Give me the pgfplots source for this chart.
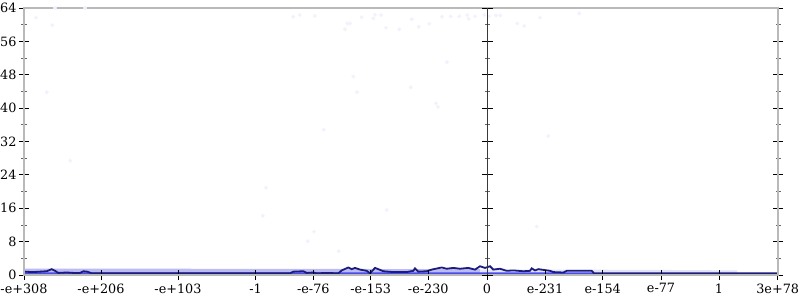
\documentclass[border=0pt]{standalone}
\usepackage{fontspec}
\setmainfont{DejaVu Serif}
\usepackage{pgfplots}
\pgfplotsset{compat=1.18}
\definecolor{navyl}{RGB}{28,28,125}
\definecolor{faint}{RGB}{242,242,253}
\definecolor{band}{RGB}{188,188,243}
\definecolor{bandl}{RGB}{226,226,250}
\definecolor{base}{RGB}{75,75,235}
\begin{document}
\begin{tikzpicture}[x=1bp,y=1bp]
\pgfplotsset{
 common/.style={
  anchor=south west, scale only axis, height=267bp,
  ymin=0, ymax=64,
  ytick={0,8,...,64}, minor y tick num=1,
  tick align=center, major tick length=11bp, minor tick length=5bp,
  major tick style={black, line width=0.9bp},
  minor tick style={gray!80!black, line width=0.7bp},
  tick label style={font=\fontsize{12.8bp}{14bp}\selectfont},
  /pgf/number format/assume math mode=true,
 }
}
\begin{axis}[common,
  at={(24bp,25bp)}, width=754bp,
  xmin=-463, xmax=291,
  axis on top,
  axis line style={draw=gray!55, line width=1.3bp},
  xtick={-463,-386,-309,-231.5,-173.7,-116.3,-58.7,0,58,115.7,174,232,290.7},
  xticklabels={-e+308,-e+206,-e+103,-1,-e-76,-e-153,-e-230,0,e-231,e-154,e-77,1,3e+78},
  xtick pos=bottom, ytick pos=both,
  major x tick style={black, line width=0.9bp},
  major tick length=10bp,
  yticklabel style={xshift=1bp},
]
% faint band near zero
\addplot[draw=none, fill=band] coordinates {(-463,0)(-463,1.5)(-300,1.5)(-150,1.45)(-7,1.4)(-7,0)} \closedcycle;
\addplot[draw=none, fill=bandl] coordinates {(-7,0)(-7,1.3)(150,1.25)(250,1.1)(250,0)} \closedcycle;
% faint scattered samples
\addplot[only marks, mark=*, mark size=1.8bp, color=faint] coordinates {
(-451,61.7)(-434.7,59.9)(-432,64)(-402,64)(-440.3,43.8)
(-416.7,27.4)(-221,20.9)(-224.3,14.2)
(-193.7,61.9)(-187.3,62.3)(-172.3,62.1)(-142,58.9)(-139.7,60.3)(-137,60.3)
(-125.3,61.8)(-113.7,61.5)(-112,62.4)(-106,62.3)(-101,59.3)(-87.7,58.9)
(-75.3,61.3)(-68.3,59.5)(-57.7,60.2)(-45,61.9)(-36.3,62.0)(-27.7,62.0)
(-19.7,62.3)(-18.3,61.4)(-12,62.0)(-2.7,62.3)(1.7,62.0)(9,62.2)(13.3,62.2)
(30.3,60.3)(37.3,59.7)(53,61.7)(92.3,62.7)
(-40,51.0)(-133.7,47.6)(-130,43.8)(-76.3,45.0)(-51,41.1)(-49,40.3)(-163.3,34.8)
(61.3,33.3)(-173,10.4)(-179.3,8.1)(-148.3,5.7)(-100.3,15.6)(49.7,11.6)
};
% bright blue base
\addplot[draw=none, fill=base] coordinates {(-463,0)(-463,0.6)(107,0.6)(107,0)} \closedcycle;
% dark running line
\addplot[color=navyl, line width=1.8bp] coordinates {
(-463,0.8)(-453.7,0.7)(-447,0.8)(-440.3,0.9)(-435.3,1.4)(-432,1.0)(-428.7,0.5)
(-420.3,0.6)(-413.7,0.5)(-407,0.5)(-403.7,0.9)(-399.7,0.8)(-395.3,0.4)
(-227,0.4)(-197,0.4)(-193.7,0.8)(-183.7,0.9)(-180.3,0.5)(-173.7,0.6)(-170.3,0.4)
(-160.3,0.5)(-148.7,0.4)(-145.3,1.1)(-138.7,1.8)(-135.3,1.4)(-132,1.7)(-127,1.3)
(-120.3,1.0)(-117,0.4)(-112,1.7)(-108.7,1.4)(-103.7,0.9)(-93.7,0.7)(-80.3,0.7)
(-73.7,1.0)(-72,1.6)(-68.7,0.8)(-60.3,0.9)(-55.3,1.3)(-45.3,1.8)(-40.3,1.5)
(-33.7,1.7)(-27,1.5)(-18.7,1.7)(-12,1.3)(-7,2.1)(-2,1.7)(3,2.1)(6.3,1.3)
(13,1.5)(19.7,1.0)(26.3,1.1)(36.3,0.9)(43,1.0)(44.7,1.6)(48,1.1)(51.3,1.4)
(63,1.0)(66.3,0.7)(76.3,0.6)(79.7,1.0)(104.7,1.0)(107,0.4)(291,0.4)
};
\end{axis}
\begin{axis}[common,
  at={(24bp,25bp)}, width=463bp,
  xmin=-463, xmax=0,
  axis x line=none, axis y line=right,
  axis line style={-, draw=gray!45!black, line width=0.9bp},
  yticklabels={},
]
\addplot[draw=none] coordinates {(-10,0)};
\end{axis}
\pgfresetboundingbox
\path[use as bounding box] (0,0) rectangle (800,300);
\end{tikzpicture}
\end{document}
